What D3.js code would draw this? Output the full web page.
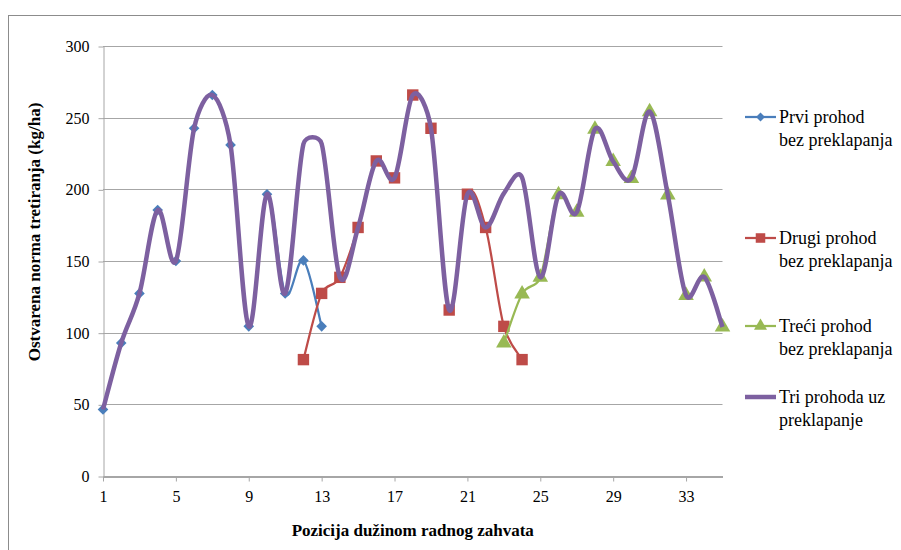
<!DOCTYPE html>
<html>
<head>
<meta charset="utf-8">
<script src="https://cdn.jsdelivr.net/npm/d3@7"></script>
<style>
  body { margin: 0; background: #fff; }
</style>
</head>
<body>
<div class="chartdiv"></div>
<script>
//data
var positions = d3.range(1, 36);
var prviStart = 1;
var prviValues = [46.4, 92.8, 127.4, 185.5, 150.0, 242.6, 265.8, 231.0, 104.4, 196.6, 127.4, 150.4, 104.4];
var drugiStart = 12;
var drugiValues = [81.2, 127.4, 138.6, 173.4, 219.8, 208.0, 265.8, 242.6, 115.8, 196.6, 173.4, 104.4, 81.2];
var treciStart = 23;
var treciValues = [92.8, 127.0, 138.6, 196.2, 184.0, 242.0, 219.4, 207.6, 254.2, 196.0, 126.0, 138.8, 104.0];
var ukupnoValues = [46.4, 92.8, 127.4, 185.5, 150.0, 242.6, 265.8, 231.0, 104.4, 196.6, 127.4, 231.6, 231.8,
    138.6, 173.4, 219.8, 208.0, 265.8, 242.6, 115.8, 196.6, 173.4, 197.2, 208.2,
    138.6, 196.2, 184.0, 242.0, 219.4, 207.6, 254.2, 196.0, 126.0, 138.8, 104.0];
var xTicks = [1, 5, 9, 13, 17, 21, 25, 29, 33];
var yTicks = [0, 50, 100, 150, 200, 250, 300];
var seriesNames = [["Prvi prohod", "bez preklapanja"], ["Drugi prohod", "bez preklapanja"],
    ["Treći prohod", "bez preklapanja"], ["Tri prohoda uz", "preklapanje"]];

var width = 901, height = 550;
var plotLeft = 103, plotRight = 722.5, plotTop = 46, plotBottom = 476;
var serif = "'Liberation Serif'";

var svg = d3.select("div.chartdiv")
    .append("svg")
    .attr("width", width)
    .attr("height", height);

//outer chart border
svg.append("rect")
    .attr("x", 8.5).attr("y", 15.5)
    .attr("width", 905).attr("height", 545)
    .attr("fill", "#fff")
    .attr("stroke", "#8c8c8c")
    .attr("stroke-width", 1);

var x = d3.scaleLinear().domain([1, 35]).range([plotLeft, plotRight]);
var y = d3.scaleLinear().domain([0, 300]).range([plotBottom, plotTop]);

//gridlines
svg.append("g")
    .selectAll("line")
    .data(yTicks.filter(function(d){ return d > 0; }))
    .enter()
    .append("line")
    .attr("x1", plotLeft).attr("x2", plotRight)
    .attr("y1", function(d){ return Math.round(y(d)) + 0.5; })
    .attr("y2", function(d){ return Math.round(y(d)) + 0.5; })
    .attr("stroke", "#a6a6a6")
    .attr("stroke-width", 1);

//y axis
var yAxis = svg.append("g")
    .attr("transform", "translate(" + (plotLeft + 0.5) + ",0.5)")
    .call(d3.axisLeft(y).tickValues(yTicks).tickSize(5).tickPadding(9).tickSizeOuter(0));
yAxis.select(".domain").attr("stroke", "#a6a6a6");
yAxis.selectAll(".tick line").attr("stroke", "#a6a6a6");
yAxis.selectAll(".tick text")
    .style("font-family", serif)
    .style("font-size", "16px")
    .attr("fill", "#000");

//x axis
var xAxis = svg.append("g")
    .attr("transform", "translate(0," + (plotBottom + 0.5) + ")")
    .call(d3.axisBottom(x).tickValues(xTicks).tickSize(5).tickPadding(9).tickSizeOuter(0));
xAxis.select(".domain").attr("stroke", "#a6a6a6").attr("stroke-width", 2);
xAxis.selectAll(".tick line").attr("stroke", "#a6a6a6");
xAxis.selectAll(".tick text")
    .style("font-family", serif)
    .style("font-size", "16px")
    .attr("fill", "#000");

//axis titles
svg.append("text")
    .attr("transform", "translate(40,232) rotate(-90)")
    .attr("text-anchor", "middle")
    .style("font-family", serif)
    .style("font-size", "17px")
    .style("font-weight", "bold")
    .text("Ostvarena norma tretiranja (kg/ha)");

svg.append("text")
    .attr("x", (plotLeft + plotRight) / 2)
    .attr("y", 536)
    .attr("text-anchor", "middle")
    .style("font-family", serif)
    .style("font-size", "17px")
    .style("font-weight", "bold")
    .text("Pozicija dužinom radnog zahvata");

//build point lists
function toPoints(start, values){
    return values.map(function(v, i){ return { pos: start + i, val: v }; });
}
var prvi = toPoints(prviStart, prviValues);
var drugi = toPoints(drugiStart, drugiValues);
var treci = toPoints(treciStart, treciValues);
var ukupno = toPoints(positions[0], ukupnoValues);

//excel-like smoothed line: bezier with control points clamped to half a segment
function smoothPath(data){
    var pts = data.map(function(d){ return [x(d.pos), y(d.val)]; });
    var p = d3.path();
    var n = pts.length;
    p.moveTo(pts[0][0], pts[0][1]);
    for (var i = 0; i < n - 1; i++){
        var p0 = pts[Math.max(i - 1, 0)], p1 = pts[i], p2 = pts[i + 1], p3 = pts[Math.min(i + 2, n - 1)];
        var d02 = Math.hypot(p2[0] - p0[0], p2[1] - p0[1]);
        var d12 = Math.hypot(p2[0] - p1[0], p2[1] - p1[1]);
        var d13 = Math.hypot(p3[0] - p1[0], p3[1] - p1[1]);
        var f1 = (d02 / 6 < d12 / 2) ? 1 / 6 : (d12 / 2) / d02;
        var f2 = (d13 / 6 < d12 / 2) ? 1 / 6 : (d12 / 2) / d13;
        p.bezierCurveTo(
            p1[0] + (p2[0] - p0[0]) * f1, p1[1] + (p2[1] - p0[1]) * f1,
            p2[0] - (p3[0] - p1[0]) * f2, p2[1] - (p3[1] - p1[1]) * f2,
            p2[0], p2[1]);
    }
    return p.toString();
}

var colors = ["#4a7ebb", "#be4b48", "#98b954", "#7d60a0"];
var symbols = [d3.symbolDiamond2, d3.symbolSquare, d3.symbolTriangle, null];
var symbolSizes = [72, 130, 105, 0];

function drawSeries(data, i){
    var g = svg.append("g").attr("class", "series");
    g.append("path")
        .attr("d", smoothPath(data))
        .attr("fill", "none")
        .attr("stroke", colors[i])
        .attr("stroke-width", 2.25);
    g.selectAll(".marker")
        .data(data)
        .enter()
        .append("path")
        .attr("class", "marker")
        .attr("transform", function(d){ return "translate(" + x(d.pos) + "," + y(d.val) + ")"; })
        .attr("d", d3.symbol().type(symbols[i]).size(symbolSizes[i]))
        .attr("fill", colors[i]);
}
drawSeries(prvi, 0);
drawSeries(drugi, 1);
drawSeries(treci, 2);

svg.append("path")
    .attr("d", smoothPath(ukupno))
    .attr("fill", "none")
    .attr("stroke", colors[3])
    .attr("stroke-width", 4.5)
    .attr("stroke-linejoin", "round");

//legend
var legendY = [117, 238, 326, 397];
var legend = svg.selectAll(".legend")
    .data(seriesNames)
    .enter()
    .append("g")
    .attr("class", "legend")
    .attr("transform", function(d, i){ return "translate(745," + legendY[i] + ")"; });

legend.append("line")
    .attr("x1", 0).attr("x2", 31)
    .attr("y1", 0).attr("y2", 0)
    .attr("stroke", function(d, i){ return colors[i]; })
    .attr("stroke-width", function(d, i){ return i == 3 ? 4.5 : 2.25; });

legend.filter(function(d, i){ return i < 3; })
    .append("path")
    .attr("transform", "translate(15.5,0)")
    .attr("d", function(d, i){ return d3.symbol().type(symbols[i]).size(symbolSizes[i] * 0.7)(); })
    .attr("fill", function(d, i){ return colors[i]; });

legend.append("text")
    .attr("x", 34)
    .attr("y", 6)
    .style("font-family", serif)
    .style("font-size", "18px")
    .selectAll("tspan")
    .data(function(d){ return d; })
    .enter()
    .append("tspan")
    .attr("x", 34)
    .attr("dy", function(d, i){ return i == 0 ? 0 : 23; })
    .text(function(d){ return d; });
</script>
</body>
</html>
